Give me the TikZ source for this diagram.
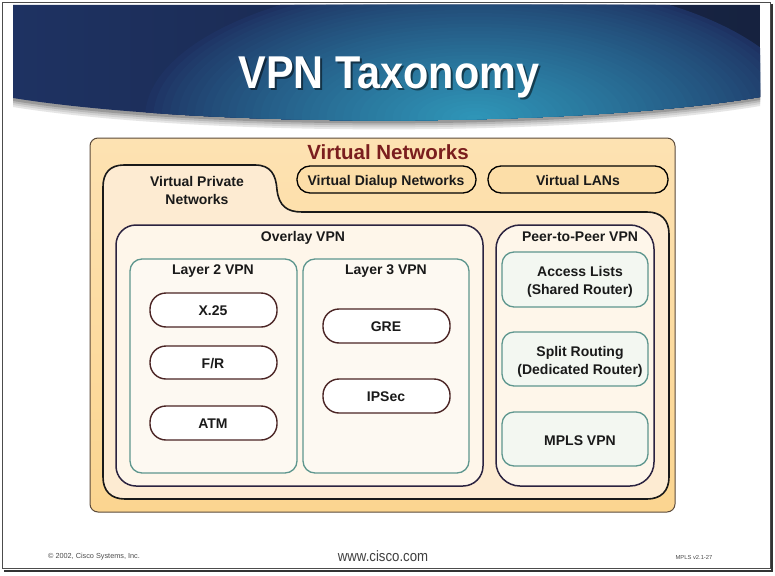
\documentclass[tikz,border=0pt]{standalone}
\usepackage{fontspec}
\setmainfont{Liberation Sans}
\usetikzlibrary{calc}
\definecolor{vntop}{HTML}{FDE2B2}
\definecolor{vnbot}{HTML}{FBD590}
\definecolor{vnline}{HTML}{5B4A3A}
\definecolor{vpnfill}{HTML}{FDEBD2}
\definecolor{ovfill}{HTML}{FEF6EA}
\definecolor{ovline}{HTML}{2B2340}
\definecolor{teall}{HTML}{5E968E}
\definecolor{layfill}{HTML}{FDF9F2}
\definecolor{pilline}{HTML}{4A2424}
\definecolor{p2pbox}{HTML}{F3F7F1}
\definecolor{vnred}{HTML}{7A1E1E}
\definecolor{txt}{HTML}{1A1A1A}
\definecolor{navyL}{HTML}{1E3262}
\definecolor{navyR}{HTML}{16223F}
\definecolor{tealc}{HTML}{2F97B9}
\tikzset{
  lbl/.style={font=\fontsize{14}{18}\selectfont\bfseries, text=txt, inner sep=0pt, align=center, text height=10pt, text depth=0pt},
  pill/.style={draw=pilline, line width=1.4pt, fill=white, rounded corners=16pt},
  laybox/.style={draw=teall, line width=1.3pt, fill=layfill, rounded corners=12pt},
  pbox/.style={draw=teall, line width=1.3pt, fill=p2pbox, rounded corners=12pt},
  ovbox/.style={draw=ovline, line width=1.5pt, fill=ovfill, rounded corners=20pt},
  toppill/.style={draw=black, line width=1.3pt, fill=vntop!70!vnbot, rounded corners=13pt},
  titlefont/.style={font=\fontsize{46}{50}\selectfont\bfseries, inner sep=0pt, text height=33pt, text depth=0pt},
}
\begin{document}
\begin{tikzpicture}[x=1pt,y=-1pt]
\useasboundingbox (0,0) rectangle (775,575);
\fill[white] (0,0) rectangle (775,575);
% frame
\draw[line width=0.8pt, black!70] (2,2) rectangle (770,568);
\draw[line width=1.6pt, black!80] (772,4) -- (772,571) -- (4,571);
% banner shadow
\foreach \d/\c in {9/10,7/18,5/28,3/40} {
  \fill[black!\c] (13,98+\d) .. controls (200,128+\d) and (575,128+\d) .. (760,97+\d) -- (760,90) -- (13,90) -- cycle;
}
% banner
\begin{scope}
\clip (13,5) -- (760,5) -- (760,97) .. controls (575,128) and (200,128) .. (13,98) -- cycle;
\shade[left color=navyL, right color=navyR] (13,5) rectangle (760,130);
\foreach \i in {0,...,39} {
  \pgfmathsetmacro\f{1-\i/40}
  \pgfmathsetmacro\p{100*(\i/40)^0.8}
  \fill[tealc!\p!navyL] (475,118) ellipse [x radius=330*\f, y radius=140*\f];
}
\end{scope}
\node[titlefont, text=black, opacity=0.5] (titleshadow) at (391,74) {\scalebox{0.9}[1]{VPN Taxonomy}};
\node[titlefont, text=white] (title) at (389,72) {\scalebox{0.9}[1]{VPN Taxonomy}};

% Virtual Networks box
\shade[top color=vntop, bottom color=vnbot, draw=vnline, line width=1pt, rounded corners=8pt] (90,138) rectangle (675,512);
\node[font=\fontsize{20.5}{24}\selectfont\bfseries, text=vnred, inner sep=0pt, text height=14.7pt, text depth=0pt] (tVN) at (388,152) {Virtual Networks};

% top pills
\draw[toppill] (297,166) rectangle (476,193);
\node[lbl] (tVDN) at (386,180) {Virtual Dialup Networks};
\draw[toppill] (488,166) rectangle (668,193);
\node[lbl] (tVLAN) at (578,180) {Virtual LANs};

% VPN shape
\draw[fill=vpnfill, draw=black!90, line width=1.6pt]
 (103,477) -- (103,187) .. controls (103,173) and (110,165) .. (124,165) -- (255,165)
 .. controls (271,165) and (276,175) .. (277,190)
 .. controls (279,206) and (287,212) .. (302,212) -- (647,212)
 .. controls (661,212) and (669,220) .. (669,234) -- (669,477)
 .. controls (669,491) and (661,499) .. (647,499) -- (125,499)
 .. controls (111,499) and (103,491) .. (103,477) -- cycle;
\node[lbl] (tVPN) at (197,199) {Virtual Private\\Networks};

% Overlay VPN
\draw[ovbox] (116,225) rectangle (483,486);
\node[lbl] (tOV) at (303,236) {Overlay VPN};
\draw[laybox] (130,259) rectangle (297,473);
\node[lbl] (tL2) at (213,269) {Layer 2 VPN};
\draw[laybox] (303,259) rectangle (469,473);
\node[lbl] (tL3) at (386,269) {Layer 3 VPN};

\draw[pill] (150,293) rectangle (277,327);
\node[lbl] (tX25) at (213,310) {X.25};
\draw[pill] (150,346) rectangle (277,379);
\node[lbl] (tFR) at (213,363) {F/R};
\draw[pill] (150,406) rectangle (277,440);
\node[lbl] (tATM) at (213,423) {ATM};
\draw[pill] (323,309) rectangle (450,343);
\node[lbl] (tGRE) at (386,326) {GRE};
\draw[pill] (323,379) rectangle (450,413);
\node[lbl] (tIPS) at (386,396) {IPSec};

% Peer-to-peer
\draw[ovbox, rounded corners=24pt] (496,225) rectangle (654,486);
\node[lbl] (tP2P) at (580,236) {Peer-to-Peer VPN};
\draw[pbox] (502,252) rectangle (648,307);
\node[lbl] (tAL) at (580,289) {Access Lists\\(Shared Router)};
\draw[pbox] (502,332) rectangle (648,386);
\node[lbl] (tSR) at (580,369) {Split Routing\\(Dedicated Router)};
\draw[pbox] (502,412) rectangle (648,466);
\node[lbl] (tMPLS) at (580,440) {MPLS VPN};

% footer
\node[font=\fontsize{7.3}{9}\selectfont, text=black!70, inner sep=0pt] (fCopy) at (94,557) {\textcopyright\ 2002, Cisco Systems, Inc.};
\node[font=\fontsize{15}{18}\selectfont, text=black!75, inner sep=0pt] (fWeb) at (383,556) {\scalebox{0.88}[1]{www.cisco.com}};
\node[font=\fontsize{5.8}{7}\selectfont, text=black!70, inner sep=0pt] (fVer) at (694,557) {MPLS v2.1-27};
\end{tikzpicture}
\end{document}
